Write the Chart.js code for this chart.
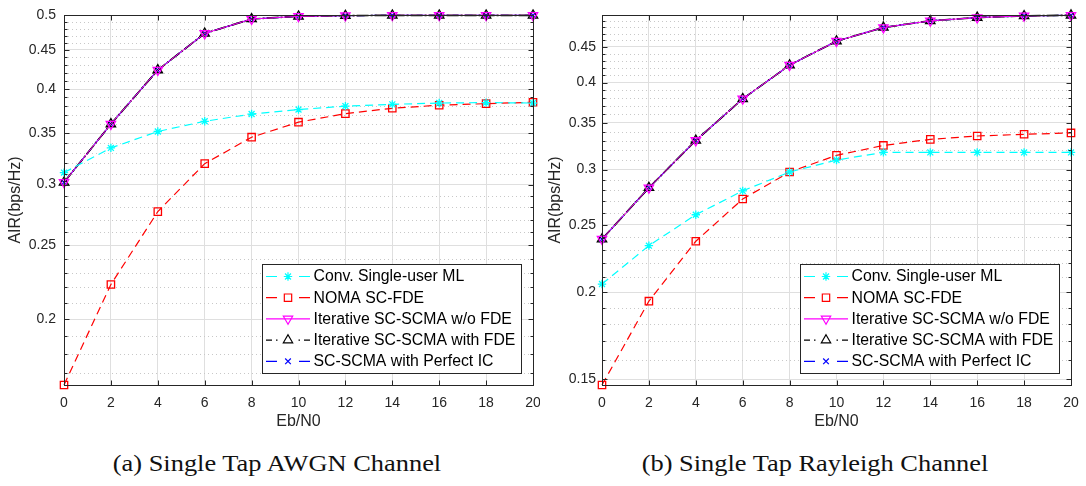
<!DOCTYPE html>
<html lang="en">
<head>
<meta charset="UTF-8">
<title>AIR vs Eb/N0</title>
<script src="https://cdn.jsdelivr.net/npm/chart.js"></script>
<style>
  body { margin: 0; background: #fff; }
  #wrap { position: relative; width: 1086px; height: 486px; overflow: hidden; background: #fff; }
  canvas { position: absolute; top: 0; }
  #chartA { left: 0; }
  #chartB { left: 540px; }
  .cap {
    position: absolute; top: 451px; transform: translateX(-50%) scaleX(1.1);
    font-family: "Liberation Serif", "Times New Roman", serif;
    font-size: 24px; line-height: 24px; color: #111; white-space: nowrap;
  }
</style>
</head>
<body>
<div id="wrap">
  <canvas id="chartA" width="540" height="440"></canvas>
  <canvas id="chartB" width="546" height="440"></canvas>
  <div class="cap" style="left:277px">(a) Single Tap AWGN Channel</div>
  <div class="cap" style="left:815px">(b) Single Tap Rayleigh Channel</div>
</div>

<script>
// x axis values and ticks
const ebN0 = [0, 2, 4, 6, 8, 10, 12, 14, 16, 18, 20];
const xTicks = [0, 2, 4, 6, 8, 10, 12, 14, 16, 18, 20];

const seriesNames = [
  'Conv. Single-user ML',
  'NOMA SC-FDE',
  'Iterative SC-SCMA w/o FDE',
  'Iterative SC-SCMA with FDE',
  'SC-SCMA with Perfect IC'
];

// (a) single tap AWGN
const convMlAwgn    = [0.311, 0.335, 0.352, 0.363, 0.371, 0.376, 0.380, 0.382, 0.3835, 0.384, 0.3835];
const nomaAwgn      = [0.164, 0.222, 0.2765, 0.3195, 0.346, 0.362, 0.3715, 0.3775, 0.381, 0.3828, 0.3844];
const iterNoFdeAwgn = [0.302, 0.360, 0.4236, 0.473, 0.494, 0.498, 0.499, 0.4995, 0.4995, 0.4995, 0.4995];
const iterFdeAwgn   = [0.302, 0.360, 0.4236, 0.473, 0.494, 0.498, 0.499, 0.4995, 0.4995, 0.4995, 0.4995];
const perfectIcAwgn = [0.302, 0.360, 0.4236, 0.473, 0.494, 0.498, 0.499, 0.4995, 0.4995, 0.4995, 0.4995];
const yTicksAwgn = [0.2, 0.25, 0.3, 0.35, 0.4, 0.45, 0.5];

// (b) single tap Rayleigh
const convMlRay    = [0.2055, 0.2333, 0.2584, 0.2796, 0.2976, 0.3096, 0.3175, 0.3175, 0.3175, 0.3175, 0.3175];
const nomaRay      = [0.1472, 0.1942, 0.2367, 0.2722, 0.2976, 0.3144, 0.3249, 0.3315, 0.3352, 0.3371, 0.3386];
const iterNoFdeRay = [0.2384, 0.2825, 0.3303, 0.379, 0.4236, 0.4586, 0.4798, 0.4904, 0.4958, 0.4985, 0.4995];
const iterFdeRay   = [0.2384, 0.2825, 0.3303, 0.379, 0.4236, 0.4586, 0.4798, 0.4904, 0.4958, 0.4985, 0.4995];
const perfectIcRay = [0.2384, 0.2825, 0.3303, 0.379, 0.4236, 0.4586, 0.4798, 0.4904, 0.4958, 0.4985, 0.4995];
const yTicksRay = [0.15, 0.2, 0.25, 0.3, 0.35, 0.4, 0.45];

const FONT = '"Liberation Sans", Arial, Helvetica, sans-serif';
const AXIS = '#262626';

// matlab-ish line styles, one per series
const styles = [
  { color: '#00ffff', width: 1.2, dash: [8, 5], legendDash: [11, 22], point: 'star', radius: 4.2, rot: 0 },
  { color: '#ff0000', width: 1.2, dash: [8, 5], legendDash: [11, 22], point: 'rect', radius: 5.2, rot: 0 },
  { color: '#ff00ff', width: 1.0, dash: [], legendDash: [], point: 'triangle', radius: 5.4, rot: 180 },
  { color: '#000000', width: 1.7, dash: [12, 2, 2, 2], legendDash: [6, 4, 1.5, 21, 1.5, 4, 6], point: 'triangle', radius: 5.4, rot: 0 },
  { color: '#0000ff', width: 1.2, dash: [8, 4], legendDash: [11, 22], point: 'crossRot', radius: 4, rot: 0 }
];

function makeDatasets(list) {
  return list.map((vals, i) => ({
    label: seriesNames[i],
    data: ebN0.map((x, k) => ({ x: x, y: vals[k] })),
    borderColor: styles[i].color,
    borderWidth: styles[i].width,
    borderDash: styles[i].dash,
    pointStyle: styles[i].point,
    pointRadius: styles[i].radius,
    pointRotation: styles[i].rot,
    pointBorderColor: styles[i].color,
    pointBackgroundColor: 'rgba(0,0,0,0)',
    pointBorderWidth: 1.3,
    fill: false,
    tension: 0,
    clip: false
  }));
}

function minorValues(cfg) {
  const out = [];
  for (let k = Math.ceil(cfg.yMin * 100); k <= Math.floor(cfg.yMax * 100 + 1e-9); k++) {
    if (k % 5 !== 0) out.push(k / 100);
  }
  return out;
}

// dotted minor grid, inner ticks, box, legend
function decorPlugin(cfg) {
  return {
    id: 'decor',
    beforeDatasetsDraw(chart) {
      const ctx = chart.ctx, a = chart.chartArea, y = chart.scales.y;
      ctx.save();
      ctx.strokeStyle = '#c8c8c8';
      ctx.lineWidth = 1;
      ctx.setLineDash([1, 3]);
      minorValues(cfg).forEach(v => {
        const py = Math.round(y.getPixelForValue(v)) + 0.5;
        ctx.beginPath(); ctx.moveTo(a.left, py); ctx.lineTo(a.right, py); ctx.stroke();
      });
      ctx.restore();
    },
    afterDatasetsDraw(chart) {
      const ctx = chart.ctx, a = chart.chartArea, x = chart.scales.x, y = chart.scales.y;
      ctx.save();
      ctx.strokeStyle = AXIS;
      ctx.lineWidth = 1;
      ctx.setLineDash([]);
      const L = Math.round(a.left) + 0.5, R = Math.round(a.right) + 0.5;
      const T = Math.round(a.top) + 0.5, B = Math.round(a.bottom) + 0.5;
      ctx.beginPath();
      ctx.moveTo(L, T); ctx.lineTo(R, T); ctx.lineTo(R, B); ctx.lineTo(L, B); ctx.closePath();
      ctx.stroke();
      ctx.beginPath();
      xTicks.forEach(v => {
        const px = Math.round(x.getPixelForValue(v)) + 0.5;
        ctx.moveTo(px, B); ctx.lineTo(px, B - 5);
        ctx.moveTo(px, T); ctx.lineTo(px, T + 5);
      });
      cfg.yTicks.forEach(v => {
        const py = Math.round(y.getPixelForValue(v)) + 0.5;
        ctx.moveTo(L, py); ctx.lineTo(L + 5, py);
        ctx.moveTo(R, py); ctx.lineTo(R - 5, py);
      });
      minorValues(cfg).forEach(v => {
        const py = Math.round(y.getPixelForValue(v)) + 0.5;
        ctx.moveTo(L, py); ctx.lineTo(L + 3, py);
        ctx.moveTo(R, py); ctx.lineTo(R - 3, py);
      });
      ctx.stroke();

      // legend box
      const w = 259, h = 109;
      const lx = Math.round(a.right - 12 - w), ly = Math.round(a.bottom - 12 - h);
      ctx.fillStyle = '#fff';
      ctx.fillRect(lx, ly, w, h);
      ctx.strokeRect(lx + 0.5, ly + 0.5, w, h);
      chart.data.datasets.forEach((ds, i) => {
        const ry = ly + 12.5 + i * 21.2;
        ctx.save();
        ctx.strokeStyle = ds.borderColor;
        ctx.lineWidth = 1.2;
        ctx.setLineDash(styles[i].legendDash);
        ctx.beginPath(); ctx.moveTo(lx + 4, ry); ctx.lineTo(lx + 48, ry); ctx.stroke();
        ctx.setLineDash([]);
        ctx.strokeStyle = ds.pointBorderColor;
        ctx.fillStyle = 'rgba(0,0,0,0)';
        if (Chart.helpers && Chart.helpers.drawPoint) {
          Chart.helpers.drawPoint(ctx, {
            pointStyle: ds.pointStyle, radius: ds.pointRadius,
            rotation: ds.pointRotation, borderWidth: 1.2
          }, lx + 26, ry);
        }
        ctx.restore();
        ctx.fillStyle = '#000';
        ctx.font = '15.8px ' + FONT;
        ctx.textBaseline = 'middle';
        ctx.textAlign = 'left';
        ctx.fillText(ds.label, lx + 51.5, ry + 0.5);
      });
      ctx.restore();
    }
  };
}

function makeChart(id, list, cfg) {
  new Chart(document.getElementById(id), {
    type: 'line',
    data: { datasets: makeDatasets(list) },
    options: {
      responsive: false,
      animation: false,
      devicePixelRatio: 1,
      layout: { padding: { top: 15, right: cfg.padRight, bottom: 0, left: 0 } },
      plugins: { legend: { display: false }, tooltip: { enabled: false } },
      scales: {
        x: {
          type: 'linear', min: 0, max: 20,
          afterBuildTicks: s => { s.ticks = xTicks.map(v => ({ value: v })); },
          afterFit: s => { s.height = 55; s.paddingLeft = 0; s.paddingRight = 0; },
          grid: { color: '#dfdfdf', lineWidth: 1, drawTicks: false },
          border: { color: AXIS, width: 1 },
          ticks: { color: AXIS, font: { family: FONT, size: 14 }, padding: 9.5, maxRotation: 0, autoSkip: false },
          title: { display: true, text: 'Eb/N0', color: AXIS, font: { family: FONT, size: 16 }, padding: { top: 0, bottom: 8.7 } }
        },
        y: {
          type: 'logarithmic', min: cfg.yMin, max: cfg.yMax,
          afterBuildTicks: s => { s.ticks = cfg.yTicks.map(v => ({ value: v })); },
          afterFit: s => { s.width = cfg.yWidth; s.paddingTop = 0; s.paddingBottom = 0; },
          grid: { color: '#dfdfdf', lineWidth: 1, drawTicks: false },
          border: { color: AXIS, width: 1 },
          ticks: {
            color: AXIS, font: { family: FONT, size: 14 }, padding: cfg.labelPad, autoSkip: false,
            callback: v => String(v)
          },
          title: { display: true, text: 'AIR(bps/Hz)', color: AXIS, font: { family: FONT, size: 16 }, padding: { top: 5.6, bottom: 0 } }
        }
      }
    },
    plugins: [decorPlugin(cfg)]
  });
}

makeChart('chartA',
  [convMlAwgn, nomaAwgn, iterNoFdeAwgn, iterFdeAwgn, perfectIcAwgn],
  { yMin: 0.164, yMax: 0.5, yTicks: yTicksAwgn, yWidth: 64, padRight: 7, labelPad: 8 });

makeChart('chartB',
  [convMlRay, nomaRay, iterNoFdeRay, iterFdeRay, perfectIcRay],
  { yMin: 0.1472, yMax: 0.5, yTicks: yTicksRay, yWidth: 62, padRight: 15, labelPad: 6 });
</script>
</body>
</html>
